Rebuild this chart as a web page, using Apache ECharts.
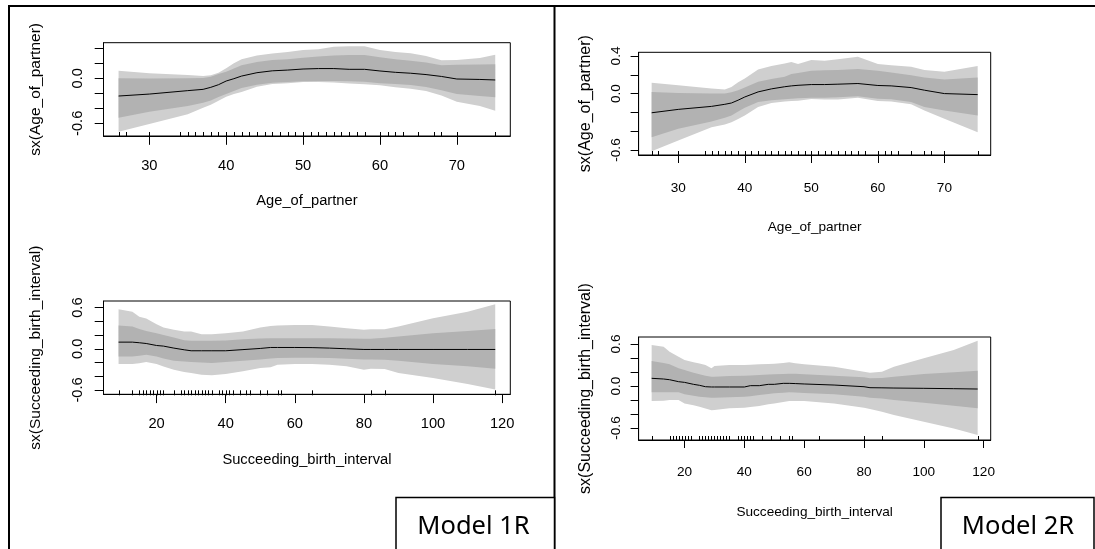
<!DOCTYPE html>
<html>
<head>
<meta charset="utf-8">
<script src="https://cdn.jsdelivr.net/npm/echarts@6/dist/echarts.min.js"></script>
<style>
html,body{margin:0;padding:0;background:#fff;}
#chart{width:1095px;height:549px;}
</style>
</head>
<body>
<div id="chart"></div>
<script>
// ---------- DATA ----------
// Panel 1: Model 1R, Age_of_partner
const age1X   = [26,30,35,37,38,39,40,41,42,44,46,48,50,52,54,56,58,60,62,64,66,68,70,73,75];
const age1Fit = [-0.236,-0.21,-0.164,-0.147,-0.12,-0.085,-0.036,-0.005,0.03,0.075,0.1,0.11,0.124,0.13,0.13,0.12,0.12,0.098,0.08,0.068,0.05,0.025,-0.009,-0.015,-0.022];
const age1Hi1 = [0.0,-0.003,0.0,0.005,0.02,0.058,0.089,0.13,0.173,0.218,0.244,0.253,0.276,0.29,0.305,0.311,0.311,0.28,0.255,0.235,0.21,0.173,0.182,0.185,0.187];
const age1Lo1 = [-0.524,-0.444,-0.369,-0.324,-0.295,-0.25,-0.209,-0.17,-0.129,-0.085,-0.06,-0.05,-0.04,-0.035,-0.035,-0.04,-0.045,-0.067,-0.075,-0.09,-0.115,-0.16,-0.209,-0.236,-0.253];
const age1Hi2 = [0.102,0.067,0.044,0.031,0.04,0.076,0.133,0.2,0.253,0.305,0.33,0.35,0.378,0.387,0.422,0.427,0.427,0.378,0.351,0.333,0.298,0.24,0.244,0.271,0.316];
const age1Lo2 = [-0.711,-0.609,-0.48,-0.391,-0.351,-0.3,-0.244,-0.21,-0.182,-0.111,-0.076,-0.067,-0.049,-0.049,-0.055,-0.07,-0.08,-0.093,-0.12,-0.14,-0.17,-0.23,-0.311,-0.369,-0.431];
const age1Rug = [26,27,30,34,35,36,37,38,39,40,41,42,43,44,45,46,47,48,49,50,51,52,53,54,55,56,57,58,60,61,62,63,65,67,68,70,75];

// Panel 2: Model 1R, Succeeding_birth_interval
const int1X   = [9,13,15,17,20,22,25,28,30,33,36,40,45,50,53,55,60,65,70,75,80,82,86,90,100,110,118];
const int1Fit = [0.097,0.097,0.088,0.077,0.048,0.039,0.01,-0.015,-0.029,-0.029,-0.029,-0.029,-0.012,0.005,0.019,0.019,0.019,0.017,0.01,0.0,-0.01,-0.01,-0.01,-0.01,-0.01,-0.01,-0.01];
const int1Hi1 = [0.339,0.324,0.29,0.261,0.227,0.2,0.165,0.125,0.116,0.116,0.116,0.121,0.14,0.15,0.155,0.155,0.155,0.155,0.155,0.15,0.145,0.145,0.16,0.179,0.227,0.261,0.29];
const int1Lo1 = [-0.111,-0.111,-0.1,-0.087,-0.111,-0.14,-0.174,-0.185,-0.194,-0.2,-0.208,-0.194,-0.174,-0.155,-0.14,-0.135,-0.13,-0.13,-0.135,-0.145,-0.155,-0.155,-0.16,-0.174,-0.223,-0.256,-0.29];
const int1Hi2 = [0.576,0.542,0.469,0.44,0.358,0.31,0.276,0.252,0.252,0.213,0.213,0.227,0.252,0.31,0.334,0.339,0.348,0.348,0.324,0.3,0.276,0.286,0.286,0.324,0.445,0.542,0.648];
const int1Lo2 = [-0.223,-0.223,-0.21,-0.194,-0.223,-0.26,-0.305,-0.339,-0.353,-0.377,-0.387,-0.368,-0.329,-0.281,-0.27,-0.232,-0.223,-0.223,-0.232,-0.256,-0.305,-0.29,-0.295,-0.353,-0.426,-0.513,-0.595];
const int1Rug = [9,13,15,16,17,18,19,20,21,22,25,27,28,29,30,31,32,33,34,35,36,38,39,40,41,42,44,46,47,50,52,55,56,65,82,86,118];

// Panel 3: Model 2R, Age_of_partner
const age2X   = [26,30,35,37,38,39,40,42,44,46,47,48,50,52,54,57,60,62,65,67,70,75];
const age2Fit = [-0.204,-0.168,-0.136,-0.114,-0.1,-0.07,-0.036,0.018,0.05,0.073,0.082,0.088,0.096,0.096,0.1,0.107,0.086,0.082,0.064,0.036,0.0,-0.011];
const age2Hi1 = [0.018,0.007,0.0,0.0,0.015,0.036,0.064,0.125,0.155,0.18,0.207,0.22,0.243,0.248,0.25,0.261,0.243,0.225,0.196,0.171,0.15,0.171];
const age2Lo1 = [-0.464,-0.375,-0.296,-0.257,-0.232,-0.19,-0.15,-0.089,-0.07,-0.06,-0.054,-0.05,-0.043,-0.043,-0.04,-0.029,-0.054,-0.06,-0.089,-0.143,-0.179,-0.232];
const age2Hi2 = [0.114,0.089,0.054,0.043,0.071,0.12,0.161,0.257,0.293,0.321,0.336,0.314,0.357,0.35,0.364,0.393,0.314,0.3,0.286,0.25,0.232,0.293];
const age2Lo2 = [-0.614,-0.5,-0.357,-0.33,-0.304,-0.27,-0.232,-0.143,-0.1,-0.085,-0.079,-0.075,-0.057,-0.064,-0.064,-0.043,-0.079,-0.085,-0.114,-0.179,-0.268,-0.411];
const age2Rug = [26,27,30,34,35,36,37,38,39,40,41,42,43,44,45,46,47,48,49,50,51,52,53,54,55,56,57,58,60,61,62,63,65,67,68,70,75];

// Panel 4: Model 2R, Succeeding_birth_interval
const int2X   = [9,13,15,18,20,23,25,27,29,30,35,40,42,45,48,50,53,55,57,60,70,80,82,86,90,100,110,118];
const int2Fit = [0.11,0.1,0.09,0.062,0.052,0.024,0.01,-0.01,-0.014,-0.014,-0.014,-0.014,0.005,0.005,0.024,0.024,0.038,0.038,0.035,0.029,0.014,-0.01,-0.024,-0.026,-0.029,-0.033,-0.038,-0.043];
const int2Hi1 = [0.357,0.33,0.31,0.252,0.229,0.19,0.167,0.145,0.133,0.133,0.143,0.148,0.15,0.157,0.163,0.167,0.172,0.176,0.174,0.167,0.148,0.124,0.11,0.115,0.133,0.171,0.195,0.219];
const int2Lo1 = [-0.09,-0.09,-0.09,-0.09,-0.119,-0.14,-0.152,-0.16,-0.167,-0.167,-0.162,-0.152,-0.145,-0.129,-0.115,-0.105,-0.095,-0.09,-0.092,-0.1,-0.119,-0.152,-0.167,-0.18,-0.2,-0.238,-0.281,-0.319];
const int2Hi2 = [0.586,0.562,0.49,0.419,0.371,0.338,0.32,0.3,0.252,0.286,0.3,0.3,0.305,0.31,0.315,0.319,0.33,0.338,0.324,0.31,0.276,0.205,0.19,0.205,0.276,0.395,0.514,0.648];
const int2Lo2 = [-0.214,-0.21,-0.2,-0.2,-0.248,-0.275,-0.295,-0.32,-0.345,-0.343,-0.319,-0.31,-0.3,-0.286,-0.26,-0.248,-0.23,-0.214,-0.214,-0.214,-0.248,-0.31,-0.329,-0.367,-0.414,-0.51,-0.605,-0.7];
const int2Rug = [9,15,16,17,18,19,20,21,22,25,26,27,28,29,30,31,32,33,34,35,38,39,40,41,42,43,46,49,52,55,56,65,80,86,118];

// Tick values / labels
const ageTicks = [30,40,50,60,70];
const intTicks = [20,40,60,80,100,120];
const yTicksAge1 = [-0.6,-0.4,-0.2,0,0.2,0.4];
const yLabelsAge1 = [-0.6,0];
const yTicksAge2 = [-0.6,-0.4,-0.2,0,0.2,0.4];
const yLabelsAge2 = [-0.6,0,0.4];
const yTicksInt = [-0.6,-0.4,-0.2,0,0.2,0.4,0.6];
const yLabelsInt = [-0.6,0,0.6];

const xTitleAge = 'Age_of_partner';
const xTitleInt = 'Succeeding_birth_interval';
const yTitleAge = 'sx(Age_of_partner)';
const yTitleInt = 'sx(Succeeding_birth_interval)';
const modelLabels = ['Model 1R','Model 2R'];

// ---------- STYLE / LAYOUT ----------
const FONT_REG = "'Liberation Sans', Arial, sans-serif";
const LIGHT = '#cfcfcf';
const DARK = '#b2b2b2';

const panels = [
  {data:{x:age1X,fit:age1Fit,hi1:age1Hi1,lo1:age1Lo1,hi2:age1Hi2,lo2:age1Lo2,rug:age1Rug},
   grid:{left:103.5,top:42.7,width:406.8,height:93.3},
   xr:[24.04,76.96], yr:[-0.769,0.475], xt:ageTicks, yt:yTicksAge1, yl:yLabelsAge1,
   xName:xTitleAge, yName:yTitleAge, fs:14.7, yNameFs:15.5,
   tick:8.8, xMargin:22.5, xGap:57.5, yMargin:18, yGap:60},
  {data:{x:int1X,fit:int1Fit,hi1:int1Hi1,lo1:int1Lo1,hi2:int1Hi2,lo2:int1Lo2,rug:int1Rug},
   grid:{left:103.5,top:301,width:406.8,height:93.3},
   xr:[4.64,122.36], yr:[-0.664,0.697], xt:intTicks, yt:yTicksInt, yl:yLabelsInt,
   xName:xTitleInt, yName:yTitleInt, fs:14.7, yNameFs:15.5,
   tick:8.8, xMargin:22, xGap:58, yMargin:18, yGap:60},
  {data:{x:age2X,fit:age2Fit,hi1:age2Hi1,lo1:age2Lo1,hi2:age2Hi2,lo2:age2Lo2,rug:age2Rug},
   grid:{left:638.6,top:52.3,width:352.1,height:102.7},
   xr:[24.04,76.96], yr:[-0.653,0.439], xt:ageTicks, yt:yTicksAge2, yl:yLabelsAge2,
   xName:xTitleAge, yName:yTitleAge, fs:13.6, yNameFs:16,
   tick:8, xMargin:26, xGap:65.5, yMargin:15, yGap:45},
  {data:{x:int2X,fit:int2Fit,hi1:int2Hi1,lo1:int2Lo1,hi2:int2Hi2,lo2:int2Lo2,rug:int2Rug},
   grid:{left:638.6,top:337,width:352.1,height:103},
   xr:[4.64,122.36], yr:[-0.771,0.70], xt:intTicks, yt:yTicksInt, yl:yLabelsInt,
   xName:xTitleInt, yName:yTitleInt, fs:13.6, yNameFs:16,
   tick:8, xMargin:25, xGap:65, yMargin:15, yGap:45}
];

const option = {animation:false, backgroundColor:'#fff', grid:[], xAxis:[], yAxis:[], series:[], graphic:[]};

function bandSeries(i, xs, lo, hi, color) {
  return {
    type:'custom', xAxisIndex:i, yAxisIndex:i, silent:true, z:1,
    data:[[xs[0], lo[0]]],
    renderItem:function(params, api){
      const pts = [];
      for (let k=0;k<xs.length;k++) pts.push(api.coord([xs[k], hi[k]]));
      for (let k=xs.length-1;k>=0;k--) pts.push(api.coord([xs[k], lo[k]]));
      return {type:'polygon', shape:{points:pts}, style:{fill:color}};
    }
  };
}

// rug marks at the bottom edge of a panel
function rugSeries(i, values, yMin) {
  return {
    type:'custom', xAxisIndex:i, yAxisIndex:i, z:6, silent:true, clip:false,
    data:values.map(function(v){ return [v, yMin]; }),
    renderItem:function(params, api){
      const c = api.coord([api.value(0), yMin]);
      const x = Math.round(c[0]) + 0.5;
      return {type:'line', shape:{x1:x, y1:c[1]+1, x2:x, y2:c[1]-4}, style:{stroke:'#000', lineWidth:1}};
    }
  };
}

panels.forEach(function(p, i){
  const d = p.data;
  option.grid.push(Object.assign({show:true, borderColor:'#000', borderWidth:1}, p.grid));
  option.xAxis.push({
    type:'value', gridIndex:i, min:p.xr[0], max:p.xr[1], position:'bottom',
    name:p.xName, nameLocation:'middle', nameGap:p.xGap,
    nameTextStyle:{fontFamily:FONT_REG, fontSize:p.fs, color:'#000'},
    axisLine:{show:true, onZero:false, lineStyle:{color:'#000', width:1}}, splitLine:{show:false},
    axisTick:{show:true, customValues:p.xt, length:p.tick, lineStyle:{color:'#000', width:1}},
    axisLabel:{show:true, customValues:p.xt, margin:p.xMargin, fontFamily:FONT_REG, fontSize:p.fs, color:'#000'}
  });
  option.yAxis.push({
    type:'value', gridIndex:i, min:p.yr[0], max:p.yr[1], position:'left',
    name:p.yName, nameLocation:'middle', nameGap:p.yGap, nameRotate:90,
    nameTextStyle:{fontFamily:FONT_REG, fontSize:p.yNameFs, color:'#000'},
    axisLine:{show:true, onZero:false, lineStyle:{color:'#000', width:1}}, splitLine:{show:false},
    axisTick:{show:true, customValues:p.yt, length:p.tick, lineStyle:{color:'#000', width:1}},
    axisLabel:{customValues:p.yl, rotate:90, margin:p.yMargin, fontFamily:FONT_REG, fontSize:p.fs, color:'#000',
      formatter:function(v){ return v.toFixed(1); }}
  });
  option.series.push(bandSeries(i, d.x, d.lo2, d.hi2, LIGHT));
  option.series.push(bandSeries(i, d.x, d.lo1, d.hi1, DARK));
  option.series.push({
    type:'line', xAxisIndex:i, yAxisIndex:i, z:5, silent:true,
    data:d.x.map(function(x,k){ return [x, d.fit[k]]; }),
    symbol:'none', lineStyle:{color:'#000', width:1}
  });
  option.series.push(rugSeries(i, d.rug, p.yr[0]));
});

// frame and model boxes
option.graphic = [
  {type:'line', shape:{x1:8, y1:6, x2:1095, y2:6}, style:{stroke:'#000', lineWidth:2}},
  {type:'line', shape:{x1:9, y1:5, x2:9, y2:549}, style:{stroke:'#000', lineWidth:2}},
  {type:'line', shape:{x1:554.5, y1:5, x2:554.5, y2:549}, style:{stroke:'#000', lineWidth:2}},
  {type:'rect', shape:{x:396, y:497.5, width:158.5, height:60}, style:{fill:'#fff', stroke:'#000', lineWidth:1.5}},
  {type:'rect', shape:{x:941, y:497.5, width:153, height:60}, style:{fill:'#fff', stroke:'#000', lineWidth:1.5}},
  {type:'text', x:473.5, y:527, style:{text:modelLabels[0], font:"25.5px 'Noto Sans', 'Open Sans', sans-serif", fill:'#000', textAlign:'center', textVerticalAlign:'middle'}},
  {type:'text', x:1018, y:527, style:{text:modelLabels[1], font:"25.5px 'Noto Sans', 'Open Sans', sans-serif", fill:'#000', textAlign:'center', textVerticalAlign:'middle'}}
];

const chart = echarts.init(document.getElementById('chart'), null, {renderer:'canvas'});
chart.setOption(option);
</script>
</body>
</html>
